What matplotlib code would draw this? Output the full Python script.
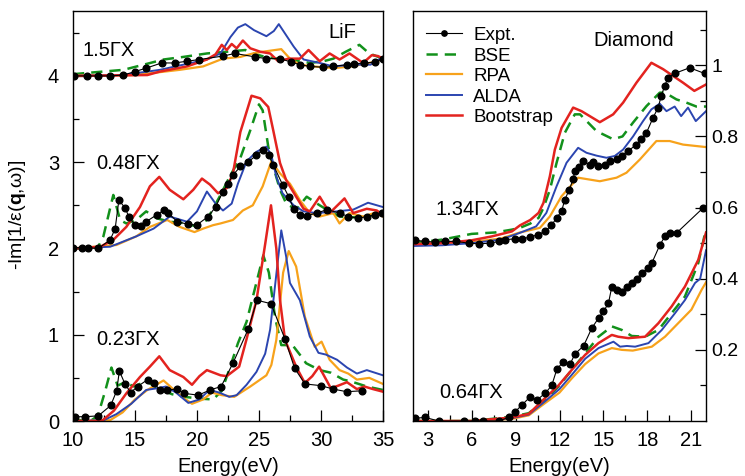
import matplotlib
matplotlib.use("Agg")
import matplotlib.pyplot as plt
from matplotlib.ticker import MultipleLocator, FixedLocator

plt.rcParams['font.family'] = ['Liberation Sans', 'DejaVu Sans']
plt.rcParams['mathtext.fontset'] = 'custom'
plt.rcParams['mathtext.rm'] = 'Liberation Sans'
plt.rcParams['mathtext.bf'] = 'Liberation Sans:bold'
plt.rcParams['mathtext.it'] = 'Liberation Sans:italic'

# ---------------- LiF, q = 0.23 GX (offset 0) ----------------
lif023_expt_x = [10.16, 10.97, 12.04, 13.04, 13.52, 13.74, 14.19, 14.65, 15.21, 16.02, 16.53, 17.02, 17.56,
                 18.36, 18.98, 20.11, 21.05, 21.95, 22.9, 24.15, 24.84, 25.97, 27.10, 27.88, 28.71, 30.0,
                 31.0, 32.07, 33.28]
lif023_expt_y = [0.05, 0.05, 0.06, 0.18, 0.35, 0.58, 0.43, 0.33, 0.40, 0.48, 0.44, 0.36, 0.36,
                 0.37, 0.32, 0.30, 0.36, 0.40, 0.67, 1.07, 1.40, 1.36, 0.95, 0.61, 0.43, 0.41,
                 0.37, 0.34, 0.35]
lif023_bse_x = [10.0, 11.5, 12.0, 12.6, 13.1, 13.6, 14.2, 14.9, 15.9, 17.0, 18.0, 19.0, 20.2, 21.3, 22.0,
                22.66, 23.3, 24.0, 24.7, 25.35, 25.8, 26.3, 26.8, 27.7, 28.4, 28.8, 29.9, 30.8, 31.8,
                32.4, 33.7, 35.0]
lif023_bse_y = [0.01, 0.01, 0.06, 0.35, 0.62, 0.41, 0.45, 0.40, 0.46, 0.37, 0.31, 0.28, 0.26, 0.25, 0.35,
                0.62, 0.90, 1.15, 1.55, 1.92, 1.72, 1.20, 0.88, 0.88, 0.75, 0.67, 0.59, 0.56, 0.48,
                0.46, 0.40, 0.36]
lif023_rpa_x = [10.0, 13.0, 14.0, 15.0, 16.0, 17.3, 18.0, 19.0, 19.6, 20.5, 21.2, 22.0, 23.0, 24.3, 25.0,
                25.6, 26.0, 26.4, 26.95, 27.4, 28.0, 28.7, 29.5, 30.05, 30.7, 31.5, 32.2, 32.9, 33.9, 35.0]
lif023_rpa_y = [0.0, 0.01, 0.10, 0.25, 0.36, 0.47, 0.38, 0.26, 0.20, 0.25, 0.33, 0.30, 0.28, 0.40, 0.47,
                0.53, 0.65, 0.94, 1.72, 1.97, 1.79, 1.21, 0.86, 0.92, 0.71, 0.59, 0.55, 0.48, 0.50, 0.43]
lif023_alda_x = [10.0, 12.5, 13.5, 14.7, 15.9, 16.8, 17.5, 18.3, 19.3, 20.2, 21.0, 21.8, 22.6, 23.2, 24.0,
                 24.8, 25.5, 25.9, 26.4, 26.8, 27.2, 27.5, 28.3, 29.1, 29.8, 30.4, 31.3, 32.1, 32.9,
                 33.7, 35.0]
lif023_alda_y = [0.0, 0.01, 0.08, 0.20, 0.36, 0.38, 0.40, 0.33, 0.21, 0.25, 0.36, 0.33, 0.28, 0.30, 0.42,
                 0.57, 0.78, 1.06, 1.70, 2.21, 1.90, 1.60, 1.40, 0.98, 0.79, 0.77, 0.71, 0.62, 0.55,
                 0.59, 0.53]
lif023_boot_x = [10.0, 12.0, 12.4, 13.3, 14.3, 15.4, 16.2, 16.96, 17.8, 18.9, 19.6, 20.2, 20.8, 21.9, 22.4,
                 23.4, 24.0, 24.8, 25.5, 25.97, 26.4, 26.7, 27.1, 28.0, 28.7, 29.3, 29.85, 30.8, 31.4,
                 32.1, 32.9, 33.5, 34.2, 35.0]
lif023_boot_y = [0.0, 0.0, 0.01, 0.12, 0.32, 0.51, 0.63, 0.75, 0.59, 0.51, 0.42, 0.52, 0.59, 0.53, 0.52,
                 0.63, 0.95, 1.40, 2.05, 2.50, 2.00, 1.40, 0.94, 0.63, 0.44, 0.52, 0.63, 0.38, 0.41,
                 0.45, 0.37, 0.40, 0.37, 0.34]

# ---------------- LiF, q = 0.48 GX (offset 2) ----------------
lif048_expt_x = [10.03, 10.7, 11.2, 12.04, 13.0, 13.4, 13.7, 14.2, 14.5, 15.0, 15.5, 15.9, 16.75, 17.3,
                 17.7, 18.4, 19.3, 19.97, 20.9, 21.5, 22.1, 22.5, 22.9, 23.5, 24.1, 24.8, 25.3, 25.8,
                 26.15, 26.9, 27.4, 27.8, 28.3, 28.85, 29.65, 30.5, 31.5, 32.2, 33.0, 33.7, 34.35, 34.9]
lif048_expt_y = [2.01, 2.01, 2.01, 2.0, 2.10, 2.23, 2.56, 2.47, 2.37, 2.27, 2.26, 2.31, 2.39, 2.44,
                 2.41, 2.31, 2.28, 2.27, 2.37, 2.48, 2.66, 2.75, 2.85, 2.95, 3.0, 3.08, 3.14, 3.08,
                 2.97, 2.74, 2.60, 2.46, 2.39, 2.38, 2.41, 2.45, 2.41, 2.37, 2.35, 2.37, 2.39, 2.41]
lif048_bse_x = [10.0, 12.0, 12.45, 13.25, 13.8, 14.3, 15.1, 15.9, 16.75, 17.8, 19.2, 20.0, 20.8, 21.9,
                22.7, 23.5, 24.3, 25.0, 25.3, 25.75, 26.15, 26.7, 27.2, 28.0, 28.85, 29.9, 30.7, 31.5,
                32.5, 33.7, 35.0]
lif048_bse_y = [2.0, 2.01, 2.14, 2.62, 2.33, 2.29, 2.33, 2.43, 2.35, 2.31, 2.29, 2.25, 2.33, 2.62,
                2.85, 3.05, 3.37, 3.67, 3.60, 3.18, 2.95, 2.68, 2.52, 2.45, 2.60, 2.50, 2.43, 2.37,
                2.36, 2.37, 2.41]
lif048_rpa_x = [10.0, 13.5, 15.1, 16.2, 17.6, 18.6, 19.8, 20.5, 21.3, 21.9, 22.9, 23.7, 24.5, 25.3, 26.0,
                26.7, 27.5, 28.3, 29.1, 29.9, 31.0, 31.5, 32.3, 33.4, 34.5, 35.0]
lif048_rpa_y = [2.0, 2.04, 2.14, 2.25, 2.33, 2.25, 2.19, 2.23, 2.27, 2.29, 2.33, 2.44, 2.50, 2.72, 3.01,
                2.87, 2.75, 2.56, 2.41, 2.37, 2.41, 2.29, 2.41, 2.37, 2.42, 2.37]
lif048_alda_x = [10.0, 13.0, 15.1, 16.5, 17.8, 19.2, 20.0, 20.8, 21.5, 22.1, 22.8, 23.3, 24.0, 24.8, 25.6,
                 26.0, 26.4, 26.9, 27.8, 28.6, 29.65, 31.3, 32.6, 33.8, 35.0]
lif048_alda_y = [2.0, 2.02, 2.14, 2.23, 2.37, 2.31, 2.43, 2.66, 2.52, 2.44, 2.52, 2.75, 3.01, 3.12, 3.18,
                 3.08, 2.83, 2.64, 2.50, 2.43, 2.41, 2.43, 2.45, 2.53, 2.48]
lif048_boot_x = [10.0, 12.2, 13.25, 14.3, 15.4, 16.2, 16.96, 17.8, 18.9, 19.7, 20.4, 21.05, 21.7, 22.4,
                 22.9, 23.5, 24.4, 25.1, 25.75, 26.15, 26.7, 27.2, 28.0, 28.6, 29.1, 29.9, 30.7, 31.9,
                 32.6, 33.7, 34.5, 35.0]
lif048_boot_y = [2.0, 2.02, 2.10, 2.25, 2.48, 2.72, 2.83, 2.68, 2.57, 2.68, 2.81, 2.74, 2.64, 2.70,
                 2.87, 3.35, 3.77, 3.74, 3.64, 3.37, 2.99, 2.79, 2.60, 2.46, 2.43, 2.60, 2.41, 2.58,
                 2.41, 2.46, 2.44, 2.39]

# ---------------- LiF, q = 1.5 GX (offset 4) ----------------
lif15_expt_x = [10.1, 11.1, 12.0, 13.0, 14.06, 15.0, 15.9, 17.15, 18.2, 19.2, 20.2, 22.1, 23.06, 24.7,
                25.6, 26.7, 27.6, 28.3, 29.1, 30.2, 31.0, 32.1, 32.7, 33.5, 34.4, 35.0]
lif15_expt_y = [4.0, 4.0, 4.0, 4.0, 4.01, 4.05, 4.09, 4.15, 4.15, 4.17, 4.19, 4.23, 4.26, 4.22,
                4.20, 4.20, 4.16, 4.13, 4.11, 4.10, 4.11, 4.13, 4.14, 4.15, 4.16, 4.20]
lif15_bse_x = [10.0, 12.4, 14.06, 15.7, 17.3, 18.9, 20.8, 22.4, 23.9, 24.5, 25.5, 26.5, 28.0, 29.1, 30.2,
               31.0, 32.0, 33.1, 33.9, 35.0]
lif15_bse_y = [4.02, 4.05, 4.07, 4.13, 4.19, 4.22, 4.26, 4.28, 4.30, 4.26, 4.22, 4.20, 4.18, 4.15, 4.17,
               4.20, 4.28, 4.36, 4.26, 4.20]
lif15_rpa_x = [10.0, 15.0, 18.6, 20.5, 22.1, 23.5, 24.5, 25.3, 26.8, 27.5, 28.3, 29.4, 31.0, 32.5, 33.9,
               35.0]
lif15_rpa_y = [4.0, 4.01, 4.07, 4.11, 4.20, 4.22, 4.26, 4.28, 4.31, 4.20, 4.13, 4.11, 4.09, 4.11, 4.15,
               4.19]
lif15_alda_x = [10.0, 14.0, 17.0, 18.9, 20.8, 21.9, 22.7, 23.3, 23.9, 24.6, 25.6, 26.2, 26.6, 27.2, 27.8,
                28.6, 29.9, 31.0, 32.6, 34.0, 35.0]
lif15_alda_y = [4.0, 4.01, 4.07, 4.13, 4.19, 4.26, 4.45, 4.56, 4.60, 4.53, 4.46, 4.52, 4.60, 4.47, 4.34,
                4.19, 4.15, 4.11, 4.13, 4.13, 4.22]
lif15_boot_x = [10.0, 16.0, 17.0, 19.2, 20.8, 21.5, 22.0, 22.4, 22.8, 23.2, 23.7, 24.3, 25.1, 25.9, 26.55,
                27.4, 28.3, 29.0, 29.9, 30.7, 31.5, 32.3, 33.4, 34.1, 34.6, 35.0]
lif15_boot_y = [4.0, 4.01, 4.05, 4.11, 4.19, 4.25, 4.36, 4.30, 4.37, 4.32, 4.41, 4.32, 4.28, 4.26, 4.17,
                4.20, 4.20, 4.30, 4.17, 4.26, 4.19, 4.26, 4.15, 4.24, 4.23, 4.20]

# ---------------- Diamond, q = 0.64 GX (offset 0) ----------------
dia064_expt_x = [2.16, 2.84, 3.75, 5.46, 6.25, 6.8, 7.84, 8.52, 8.97, 9.43, 10.0, 10.45, 11.02, 11.47,
                 11.82, 12.27, 12.72, 13.06, 13.64, 14.2, 14.66, 15.0, 15.34, 15.57, 15.9, 16.25, 16.59,
                 16.93, 17.27, 17.6, 18.07, 18.3, 18.86, 19.2, 19.54, 20.0, 21.8]
dia064_expt_y = [0.008, 0.01, 0.0, 0.0, 0.0, 0.0, 0.0, 0.01, 0.026, 0.045, 0.068, 0.059, 0.078, 0.10,
                 0.146, 0.167, 0.16, 0.189, 0.211, 0.261, 0.289, 0.308, 0.331, 0.378, 0.369, 0.364, 0.378,
                 0.388, 0.40, 0.416, 0.43, 0.444, 0.496, 0.519, 0.529, 0.529, 0.599]
dia064_bse_x = [2.0, 6.0, 8.75, 9.9, 11.0, 11.93, 12.84, 13.75, 14.66, 15.57, 16.25, 16.93, 17.84, 18.75,
                19.65, 20.56, 21.47, 22.0]
dia064_bse_y = [0.0, 0.0, 0.012, 0.022, 0.059, 0.097, 0.144, 0.19, 0.237, 0.266, 0.256, 0.239, 0.237,
                0.256, 0.303, 0.35, 0.444, 0.54]
dia064_rpa_x = [2.0, 6.0, 8.75, 9.9, 11.0, 12.0, 12.84, 13.75, 14.66, 15.57, 16.25, 17.0, 18.3, 19.2,
                20.1, 21.0, 21.7, 22.0]
dia064_rpa_y = [0.0, 0.0, 0.006, 0.016, 0.05, 0.08, 0.12, 0.16, 0.19, 0.205, 0.20, 0.198, 0.209, 0.237,
                0.275, 0.313, 0.369, 0.39]
dia064_alda_x = [2.0, 6.0, 8.75, 9.9, 11.0, 12.0, 12.84, 13.75, 14.66, 15.68, 16.13, 16.6, 17.16, 18.07,
                 18.98, 19.88, 20.56, 21.25, 21.6, 22.0]
dia064_alda_y = [0.0, 0.0, 0.008, 0.018, 0.055, 0.09, 0.13, 0.175, 0.205, 0.223, 0.209, 0.211, 0.209,
                 0.219, 0.256, 0.303, 0.34, 0.388, 0.40, 0.48]
dia064_boot_x = [2.0, 6.0, 8.75, 9.9, 11.0, 11.93, 12.84, 13.75, 14.66, 15.57, 16.0, 16.7, 17.84, 18.75,
                 19.65, 20.56, 21.47, 22.0]
dia064_boot_y = [0.0, 0.0, 0.01, 0.02, 0.064, 0.10, 0.144, 0.186, 0.219, 0.242, 0.237, 0.233, 0.237,
                 0.275, 0.322, 0.378, 0.453, 0.53]

# ---------------- Diamond, q = 1.34 GX (offset 0.5) ----------------
dia134_expt_x = [2.16, 2.84, 3.5, 4.2, 4.9, 5.8, 6.48, 7.27, 7.9, 8.3, 8.97, 9.41, 9.98, 10.54, 11.0,
                 11.45, 11.8, 12.14, 12.36, 12.66, 12.93, 13.04, 13.3, 13.6, 14.07, 14.3, 14.63, 15.09,
                 15.43, 15.89, 16.23, 16.68, 17.25, 17.59, 17.93, 18.39, 18.73, 18.95, 19.18, 19.4,
                 19.86, 20.88, 21.9]
dia134_expt_y = [0.508, 0.505, 0.503, 0.505, 0.505, 0.50, 0.498, 0.50, 0.505, 0.51, 0.512, 0.512, 0.517,
                 0.524, 0.533, 0.55, 0.571, 0.59, 0.622, 0.65, 0.679, 0.702, 0.715, 0.73, 0.721, 0.728,
                 0.716, 0.721, 0.73, 0.737, 0.746, 0.759, 0.777, 0.792, 0.81, 0.853, 0.881, 0.915,
                 0.942, 0.965, 0.977, 0.993, 0.977]
dia134_bse_x = [2.0, 4.0, 6.0, 7.6, 8.75, 9.3, 10.0, 10.57, 10.9, 11.34, 11.8, 12.36, 13.04, 13.4, 14.52,
                15.66, 16.3, 17.02, 17.93, 18.84, 19.2, 19.98, 20.66, 21.34, 22.0]
dia134_bse_y = [0.50, 0.51, 0.526, 0.53, 0.538, 0.543, 0.555, 0.571, 0.599, 0.65, 0.726, 0.81, 0.862,
                0.862, 0.815, 0.792, 0.80, 0.839, 0.885, 0.923, 0.923, 0.904, 0.895, 0.884, 0.884]
dia134_rpa_x = [2.0, 4.0, 6.0, 8.0, 9.3, 10.66, 11.34, 12.14, 13.27, 14.75, 15.89, 16.57, 17.48, 18.61,
                19.52, 20.43, 22.0]
dia134_rpa_y = [0.497, 0.50, 0.503, 0.513, 0.53, 0.543, 0.575, 0.632, 0.684, 0.674, 0.684, 0.698, 0.735,
                0.787, 0.787, 0.777, 0.77]
dia134_alda_x = [2.0, 4.0, 6.0, 8.0, 9.3, 10.4, 11.1, 11.8, 12.48, 13.27, 13.84, 14.52, 15.2, 15.77,
                 16.34, 17.02, 17.7, 18.27, 18.84, 19.3, 19.86, 20.3, 20.77, 21.3, 22.0]
dia134_alda_y = [0.492, 0.494, 0.50, 0.51, 0.529, 0.547, 0.585, 0.66, 0.726, 0.768, 0.754, 0.746, 0.74,
                 0.745, 0.763, 0.80, 0.843, 0.876, 0.892, 0.871, 0.884, 0.857, 0.881, 0.843, 0.871]
dia134_boot_x = [2.0, 4.0, 6.0, 7.39, 8.75, 9.3, 10.0, 10.57, 10.9, 11.34, 11.68, 12.14, 12.93, 13.5,
                 14.75, 15.66, 16.34, 17.25, 18.27, 19.07, 19.75, 20.43, 21.2, 22.0]
dia134_boot_y = [0.497, 0.50, 0.508, 0.519, 0.533, 0.55, 0.565, 0.585, 0.613, 0.688, 0.763, 0.824, 0.881,
                 0.871, 0.84, 0.862, 0.895, 0.951, 1.007, 0.989, 0.97, 0.951, 0.928, 0.946]

# colours / styles
c_bse = '#12911b'
c_rpa = '#f7a21b'
c_alda = '#2b45b0'
c_boot = '#e3231f'


def draw_set(ax, ex, ey, bx, by, rx, ry, ax_, ay, tx, ty, labels=False):
    ax.plot(bx, by, color=c_bse, lw=1.8, dashes=(4.5, 2.8), label='BSE' if labels else None)
    ax.plot(rx, ry, color=c_rpa, lw=1.6, label='RPA' if labels else None)
    ax.plot(ax_, ay, color=c_alda, lw=1.4, label='ALDA' if labels else None)
    ax.plot(tx, ty, color=c_boot, lw=1.8, label='Bootstrap' if labels else None)
    ax.plot(ex, ey, color='black', lw=0.8, marker='o', ms=4.8, mec='black', mfc='black',
            label='Expt.' if labels else None)


fig = plt.figure(figsize=(7.45, 4.76), dpi=100)
ax1 = fig.add_axes([0.098, 0.1155, 0.416, 0.861])
ax2 = fig.add_axes([0.5544, 0.1155, 0.3933, 0.861])

draw_set(ax1, lif023_expt_x, lif023_expt_y, lif023_bse_x, lif023_bse_y, lif023_rpa_x, lif023_rpa_y,
         lif023_alda_x, lif023_alda_y, lif023_boot_x, lif023_boot_y)
draw_set(ax1, lif048_expt_x, lif048_expt_y, lif048_bse_x, lif048_bse_y, lif048_rpa_x, lif048_rpa_y,
         lif048_alda_x, lif048_alda_y, lif048_boot_x, lif048_boot_y)
draw_set(ax1, lif15_expt_x, lif15_expt_y, lif15_bse_x, lif15_bse_y, lif15_rpa_x, lif15_rpa_y,
         lif15_alda_x, lif15_alda_y, lif15_boot_x, lif15_boot_y)

draw_set(ax2, dia064_expt_x, dia064_expt_y, dia064_bse_x, dia064_bse_y, dia064_rpa_x, dia064_rpa_y,
         dia064_alda_x, dia064_alda_y, dia064_boot_x, dia064_boot_y)
draw_set(ax2, dia134_expt_x, dia134_expt_y, dia134_bse_x, dia134_bse_y, dia134_rpa_x, dia134_rpa_y,
         dia134_alda_x, dia134_alda_y, dia134_boot_x, dia134_boot_y, labels=True)

fs = 14.5
# left panel axes
ax1.set_xlim(10, 35)
ax1.set_ylim(0, 4.75)
ax1.xaxis.set_major_locator(MultipleLocator(5))
ax1.xaxis.set_minor_locator(MultipleLocator(2.5))
ax1.yaxis.set_major_locator(MultipleLocator(1))
ax1.yaxis.set_minor_locator(MultipleLocator(0.5))
ax1.tick_params(which='both', direction='in', top=False, right=False, labelsize=fs, width=0.9)
ax1.tick_params(which='major', length=8)
ax1.tick_params(which='minor', length=4)
ax1.tick_params(axis='y', pad=10)
ax1.tick_params(axis='x', pad=7)
ax1.set_xlabel('Energy(eV)', fontsize=fs, labelpad=5)
ax1.set_ylabel(r'-Im[1/ε($\mathbf{q}$,ω)]', fontsize=14)
ax1.yaxis.set_label_coords(-0.145, 0.502)

ax1.text(10.8, 4.30, '1.5ΓX', fontsize=fs, va='center')
ax1.text(11.9, 2.98, '0.48ΓX', fontsize=fs, va='center')
ax1.text(11.9, 0.94, '0.23ΓX', fontsize=fs, va='center')
ax1.text(30.6, 4.5, 'LiF', fontsize=fs, va='center')

# right panel axes
ax2.set_xlim(2, 22)
ax2.set_ylim(0, 1.152)
ax2.xaxis.set_major_locator(MultipleLocator(3))
ax2.xaxis.set_minor_locator(MultipleLocator(1.5))
ax2.yaxis.set_major_locator(FixedLocator([0.2, 0.4, 0.6, 0.8, 1.0]))
ax2.yaxis.set_minor_locator(FixedLocator([0.1, 0.3, 0.5, 0.7, 0.9, 1.1]))
ax2.yaxis.set_major_formatter(plt.FuncFormatter(lambda v, p: '%g' % v))
ax2.yaxis.tick_right()
ax2.tick_params(which='both', direction='in', top=False, left=False, labelsize=fs, width=0.9)
ax2.tick_params(which='major', length=8)
ax2.tick_params(which='minor', length=4)
ax2.tick_params(axis='y', pad=4, labelsize=14)
ax2.tick_params(axis='x', pad=7)
ax2.set_xlabel('Energy(eV)', fontsize=fs, labelpad=5)

ax2.text(3.5, 0.594, '1.34ΓX', fontsize=fs, va='center')
ax2.text(3.8, 0.08, '0.64ΓX', fontsize=fs, va='center')
ax2.text(14.3, 1.07, 'Diamond', fontsize=fs, va='center')

handles, labels = ax2.get_legend_handles_labels()
order = [labels.index(k) for k in ['Expt.', 'BSE', 'RPA', 'ALDA', 'Bootstrap']]
ax2.legend([handles[i] for i in order], [labels[i] for i in order], loc='upper left',
           frameon=False, fontsize=13.5, handlelength=1.9, handletextpad=0.6, labelspacing=0.18,
           borderaxespad=0.0, bbox_to_anchor=(0.02, 0.98), markerscale=0.8)

for a in (ax1, ax2):
    for s in a.spines.values():
        s.set_linewidth(1.0)

fig.savefig('out.png', dpi=100)
